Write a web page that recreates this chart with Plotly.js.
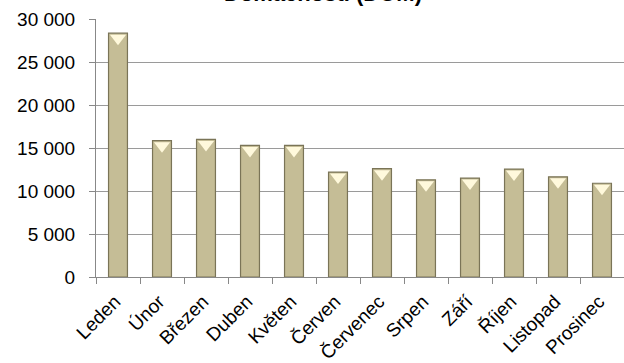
<!DOCTYPE html>
<html>
<head>
<meta charset="utf-8">
<script src="https://cdn.plot.ly/plotly-3.0.1.min.js"></script>
<style>html,body{margin:0;padding:0;background:#fff;}#chart{width:624px;height:363px;}</style>
</head>
<body>
<div id="chart"></div>
<script>
const months = ['Leden','Únor','Březen','Duben','Květen','Červen','Červenec','Srpen','Září','Říjen','Listopad','Prosinec'];
const values = [28350, 15850, 16000, 15300, 15300, 12200, 12600, 11300, 11500, 12550, 11650, 10900];
const yTicks = [0, 5000, 10000, 15000, 20000, 25000, 30000];
const chartTitle = 'Domácnosti (DOM)';

const H = 363, mt = 19, mb = 86;
const plotH = H - mt - mb;
const yMax = 30000;
const unitsPerPx = yMax / plotH;
const triSize = 14;
const triOffset = (triSize / 4 + 1.5) * unitsPerPx;

const font = 'Liberation Sans, Arial, sans-serif';

const bars = {
  type: 'bar',
  x: months,
  y: values,
  marker: {color: '#C5BD96', line: {color: '#7A7457', width: 1.2}},
  hoverinfo: 'x+y'
};
const highlights = {
  type: 'scatter',
  mode: 'markers',
  x: months,
  y: values.map(v => v - triOffset),
  marker: {symbol: 'triangle-down', size: triSize, color: '#FFF9DC', line: {width: 0}},
  hoverinfo: 'skip'
};

const layout = {
  width: 624, height: 363,
  margin: {l: 96, r: 0, t: mt, b: mb},
  paper_bgcolor: '#fff', plot_bgcolor: '#fff',
  showlegend: false,
  bargap: 0.57,
  separators: ', ',
  font: {family: font, color: '#000', size: 18},
  annotations: [{
    text: '<b>' + chartTitle + '</b>',
    font: {family: font, size: 22, color: '#000'},
    xref: 'paper', yref: 'paper',
    x: (323 - 96) / 528, y: 1,
    xanchor: 'center', yanchor: 'bottom',
    yshift: 11,
    showarrow: false
  }],
  xaxis: {
    type: 'category',
    range: [-0.5, months.length - 0.5],
    tickangle: -45,
    tickson: 'boundaries',
    ticks: 'outside', ticklen: 6, tickcolor: '#888',
    showline: true, linecolor: '#888', linewidth: 1,
    showgrid: false,
    ticklabelstandoff: 5,
    ticklabelshift: -3,
    tickfont: {family: font, size: 19, color: '#000'}
  },
  yaxis: {
    range: [0, yMax],
    tickvals: yTicks,
    tickformat: ',d',
    ticks: 'outside', ticklen: 6, tickcolor: '#888',
    showline: true, linecolor: '#888', linewidth: 1,
    showgrid: true, gridcolor: '#9A9A9A', gridwidth: 1,
    zeroline: false,
    ticklabelstandoff: 10,
    tickfont: {family: font, size: 19, color: '#000'}
  }
};

Plotly.newPlot('chart', [bars, highlights], layout, {displayModeBar: false, staticPlot: true});
</script>
</body>
</html>
